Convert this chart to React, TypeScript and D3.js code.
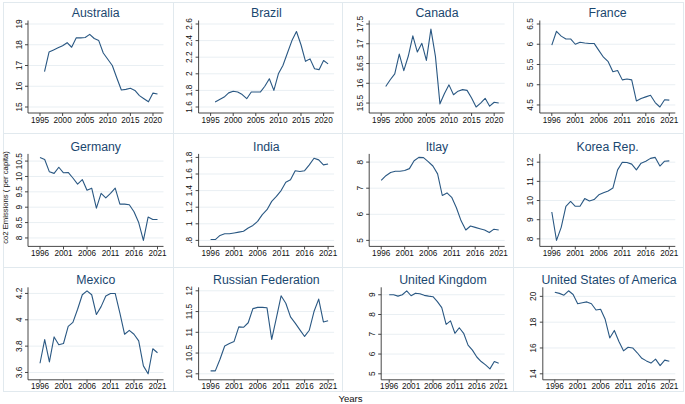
import React from 'react';
import * as d3 from 'd3';

// years on the x axis (same for every country)
const years = [
  1996, 1997, 1998, 1999, 2000, 2001, 2002, 2003, 2004, 2005, 2006, 2007, 2008,
  2009, 2010, 2011, 2012, 2013, 2014, 2015, 2016, 2017, 2018, 2019, 2020, 2021,
];

// co2 emissions per capita
const australia = [16.7, 17.65, 17.75, 17.85, 17.95, 18.1, 17.88, 18.33, 18.33, 18.35, 18.5, 18.3, 18.2, 17.6, 17.3, 17.0, 16.4, 15.82, 15.85, 15.9, 15.8, 15.55, 15.4, 15.25, 15.67, 15.63];
const brazil = [1.66, 1.69, 1.72, 1.77, 1.79, 1.78, 1.75, 1.7, 1.78, 1.78, 1.78, 1.85, 1.94, 1.8, 2.0, 2.1, 2.25, 2.4, 2.51, 2.35, 2.15, 2.18, 2.06, 2.05, 2.16, 2.12];
const canada = [15.92, 16.09, 16.24, 16.74, 16.32, 16.69, 17.2, 16.79, 17.01, 16.58, 17.37, 16.68, 15.48, 15.74, 15.96, 15.71, 15.8, 15.84, 15.82, 15.63, 15.4, 15.5, 15.62, 15.42, 15.52, 15.5];
const france = [5.98, 6.32, 6.2, 6.13, 6.13, 6.0, 6.05, 6.03, 6.02, 6.02, 5.85, 5.68, 5.57, 5.32, 5.35, 5.12, 5.14, 5.12, 4.6, 4.66, 4.7, 4.74, 4.56, 4.45, 4.63, 4.62];
const germany = [10.62, 10.55, 10.15, 10.1, 10.3, 10.12, 10.13, 9.95, 9.75, 9.9, 9.55, 9.62, 8.97, 9.45, 9.3, 9.45, 9.62, 9.1, 9.1, 9.08, 8.85, 8.5, 7.92, 8.68, 8.6, 8.6];
const india = [0.81, 0.81, 0.86, 0.88, 0.88, 0.89, 0.9, 0.91, 0.95, 0.98, 1.03, 1.11, 1.17, 1.27, 1.33, 1.4, 1.5, 1.53, 1.64, 1.63, 1.64, 1.71, 1.79, 1.77, 1.71, 1.72];
const italy = [7.3, 7.48, 7.6, 7.65, 7.65, 7.68, 7.75, 8.05, 8.18, 8.17, 8.02, 7.85, 7.55, 6.72, 6.82, 6.65, 6.25, 5.75, 5.4, 5.55, 5.5, 5.45, 5.4, 5.3, 5.43, 5.4];
const korea = [9.4, 7.92, 8.6, 9.7, 9.95, 9.7, 9.7, 10.1, 9.98, 10.05, 10.3, 10.4, 10.5, 10.65, 11.6, 12.0, 11.98, 11.9, 11.6, 11.95, 12.05, 12.2, 12.25, 11.8, 12.05, 12.07];
const mexico = [3.67, 3.85, 3.68, 3.87, 3.81, 3.82, 3.95, 3.98, 4.08, 4.19, 4.22, 4.19, 4.04, 4.1, 4.18, 4.2, 4.2, 4.05, 3.89, 3.92, 3.89, 3.84, 3.65, 3.59, 3.78, 3.75];
const russia = [10.07, 10.07, 10.35, 10.67, 10.73, 10.78, 11.13, 11.12, 11.23, 11.57, 11.6, 11.6, 11.59, 10.83, 11.35, 11.88, 11.7, 11.37, 11.22, 11.06, 10.9, 11.05, 11.5, 11.8, 11.25, 11.28];
const uk = [9.0, 9.0, 8.93, 9.0, 9.2, 8.95, 9.08, 9.05, 8.97, 8.93, 8.9, 8.65, 8.35, 7.5, 7.68, 7.05, 7.33, 7.05, 6.45, 6.2, 5.85, 5.62, 5.45, 5.25, 5.62, 5.53];
const usa = [20.32, 20.23, 20.09, 20.43, 20.14, 19.43, 19.51, 19.57, 19.43, 18.94, 19.0, 18.22, 16.78, 17.36, 16.5, 15.78, 16.06, 16.0, 15.63, 15.2, 15.0, 14.83, 15.14, 14.63, 15.06, 14.97];

// tick values
const xTicks95 = [1995, 2000, 2005, 2010, 2015, 2020];
const xTicks96 = [1996, 2001, 2006, 2011, 2016, 2021];
const yAustralia = [15, 16, 17, 18, 19];
const yBrazil = [1.6, 1.8, 2, 2.2, 2.4, 2.6];
const yCanada = [15.5, 16, 16.5, 17, 17.5];
const yFrance = [4.5, 5, 5.5, 6, 6.5];
const yGermany = [8, 8.5, 9, 9.5, 10, 10.5];
const yIndia = [0.8, 1, 1.2, 1.4, 1.6, 1.8];
const yItaly = [5, 6, 7, 8];
const yKorea = [8, 9, 10, 11, 12];
const yMexico = [3.6, 3.8, 4, 4.2];
const yRussia = [10, 10.5, 11, 11.5, 12];
const yUk = [5, 6, 7, 8, 9];
const yUsa = [14, 16, 18, 20];

const panels = [
  { title: 'Australia', values: australia, yTicks: yAustralia, xTicks: xTicks95 },
  { title: 'Brazil', values: brazil, yTicks: yBrazil, xTicks: xTicks95 },
  { title: 'Canada', values: canada, yTicks: yCanada, xTicks: xTicks95 },
  { title: 'France', values: france, yTicks: yFrance, xTicks: xTicks96 },
  { title: 'Germany', values: germany, yTicks: yGermany, xTicks: xTicks96 },
  { title: 'India', values: india, yTicks: yIndia, xTicks: xTicks96 },
  { title: 'Itlay', values: italy, yTicks: yItaly, xTicks: xTicks96 },
  { title: 'Korea Rep.', values: korea, yTicks: yKorea, xTicks: xTicks96 },
  { title: 'Mexico', values: mexico, yTicks: yMexico, xTicks: xTicks96 },
  { title: 'Russian Federation', values: russia, yTicks: yRussia, xTicks: xTicks96 },
  { title: 'United Kingdom', values: uk, yTicks: yUk, xTicks: xTicks96, shift: 12, padL: 8 },
  { title: 'United States of America', values: usa, yTicks: yUsa, xTicks: xTicks96, shift: 3 },
];

const W = 685;
const H = 404;
const FONT = '"Liberation Sans", Arial, Helvetica, sans-serif';
const NAVY = '#1a476f';
const LINE = '#2a5883';
const GRID = '#e9eff3';
const FRAME = '#e1e9ee';

const colW = 170.6;
const rowH = 133.4;

// stata-ish labels: ".8" instead of "0.8"
const fmt = (v: number) => {
  const s = String(v);
  return s.startsWith('0.') ? s.slice(1) : s;
};

const frameX = [3, 173, 342, 513, 683];
const frameY = [2, 133, 267, 391];

function Panel({ p, i }: { p: any; i: number }) {
  const c = i % 4;
  const r = Math.floor(i / 4);
  const axisX = 28 + c * colW + (p.shift || 0);
  const axisRight = 163.5 + c * colW;
  const top = 24 + r * rowH;
  const bottom = 107 + r * rowH;
  const axisY = bottom + 6;

  const xDom = [Math.min(d3.min(p.xTicks as number[])!, years[0]), years[years.length - 1]];
  const x = d3.scaleLinear().domain(xDom).range([axisX + (p.padL ?? 12), axisRight - 6]);
  const yDom = [
    Math.min(d3.min(p.values as number[])!, d3.min(p.yTicks as number[])!),
    Math.max(d3.max(p.values as number[])!, d3.max(p.yTicks as number[])!),
  ];
  const y = d3.scaleLinear().domain(yDom).range([bottom, top]);

  const line = d3
    .line<number>()
    .x((_, k) => x(years[k]))
    .y((d) => y(d));

  return (
    <g>
      <rect
        x={frameX[c] + 0.5}
        y={frameY[r] + 0.5}
        width={frameX[c + 1] - frameX[c]}
        height={frameY[r + 1] - frameY[r]}
        fill="none"
        stroke={FRAME}
      />
      {/* grid */}
      {p.yTicks.map((t: number) => (
        <line key={'g' + t} x1={axisX} x2={axisRight} y1={y(t)} y2={y(t)} stroke={GRID} strokeWidth={1} />
      ))}
      {/* title */}
      <text
        x={(axisX + axisRight) / 2}
        y={top - 6.7}
        textAnchor="middle"
        fontSize={12.3}
        fill={NAVY}
      >
        {p.title}
      </text>
      {/* y axis */}
      <line x1={axisX} x2={axisX} y1={top - 3.5} y2={axisY} stroke="#333" strokeWidth={0.9} />
      {p.yTicks.map((t: number) => (
        <g key={'y' + t}>
          <line x1={axisX - 3} x2={axisX} y1={y(t)} y2={y(t)} stroke="#333" strokeWidth={0.9} />
          <text
            transform={`translate(${axisX - 6.5},${y(t)}) rotate(-90)`}
            textAnchor="middle"
            fontSize={8.3}
            fill="#111"
          >
            {fmt(t)}
          </text>
        </g>
      ))}
      {/* x axis */}
      <line x1={axisX} x2={axisRight} y1={axisY} y2={axisY} stroke="#333" strokeWidth={0.9} />
      {p.xTicks.map((t: number) => (
        <g key={'x' + t}>
          <line x1={x(t)} x2={x(t)} y1={axisY} y2={axisY + 3} stroke="#333" strokeWidth={0.9} />
          <text x={x(t)} y={axisY + 9.5} textAnchor="middle" fontSize={8.2} fill="#111">
            {t}
          </text>
        </g>
      ))}
      <path d={line(p.values) || ''} fill="none" stroke={LINE} strokeWidth={1.1} strokeLinejoin="round" />
    </g>
  );
}

export default function App() {
  return (
    <svg
      width={W}
      height={H}
      style={{ position: 'absolute', left: 0, top: 0, background: '#fff' }}
      fontFamily={FONT}
    >
      <rect width={W} height={H} fill="#fff" />
      {panels.map((p, i) => (
        <Panel key={p.title} p={p} i={i} />
      ))}
      <text
        transform="translate(8,197.5) rotate(-90)"
        textAnchor="middle"
        fontSize={7.7}
        fill="#111"
      >
        co2 Emissions ( per capita)
      </text>
      <text x={350.5} y={402} textAnchor="middle" fontSize={9.6} fill="#111">
        Years
      </text>
    </svg>
  );
}
